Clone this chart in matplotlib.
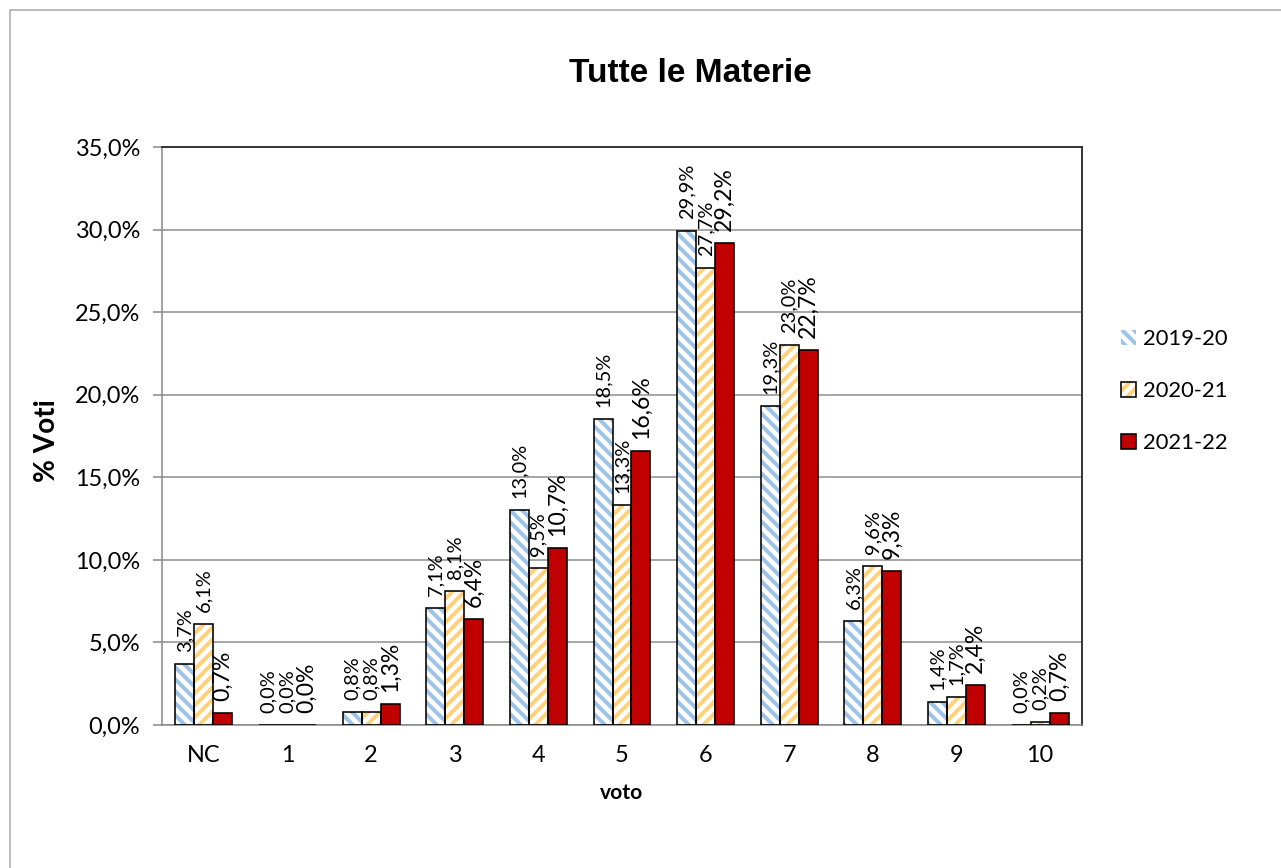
import matplotlib
matplotlib.use("Agg")
import matplotlib.pyplot as plt
import numpy as np
from matplotlib.patches import Patch, Rectangle
from matplotlib.legend_handler import HandlerTuple
from matplotlib.ticker import FuncFormatter, MultipleLocator

categories = ["NC", "1", "2", "3", "4", "5", "6", "7", "8", "9", "10"]
series_names = ["2019-20", "2020-21", "2021-22"]
v_2019_20 = [3.7, 0.0, 0.8, 7.1, 13.0, 18.5, 29.9, 19.3, 6.3, 1.4, 0.0]
v_2020_21 = [6.1, 0.0, 0.8, 8.1, 9.5, 13.3, 27.7, 23.0, 9.6, 1.7, 0.2]
v_2021_22 = [0.7, 0.0, 1.3, 6.4, 10.7, 16.6, 29.2, 22.7, 9.3, 2.4, 0.7]
title = "Tutte le Materie"
ylabel = "% Voti"
xlabel = "voto"

W, H = 1281, 868
DPI = 72
plt.rcParams['hatch.linewidth'] = 4.0
plt.rcParams['font.family'] = ['Lato', 'DejaVu Sans']

fig = plt.figure(figsize=(W / DPI, H / DPI), dpi=DPI)
fig.patch.set_facecolor('white')
ax = fig.add_axes([162 / W, 1 - 725 / H, (1082 - 162) / W, (725 - 147) / H])

x = np.arange(len(categories))
bw = 0.227
offsets = [-bw, 0, bw]
values = [v_2019_20, v_2020_21, v_2021_22]
blue_h = '#9DC3E6'
orange_h = '#FFD27A'
red = '#C00000'

ax.set_axisbelow(True)
# 2019-20 hatched
ax.bar(x + offsets[0], v_2019_20, bw, facecolor='white', edgecolor=blue_h,
       hatch='\\\\', linewidth=0, zorder=2)
ax.bar(x + offsets[0], v_2019_20, bw, fill=False, edgecolor='black',
       linewidth=1.6, zorder=3)
# 2020-21 hatched
ax.bar(x + offsets[1], v_2020_21, bw, facecolor='white', edgecolor=orange_h,
       hatch='//', linewidth=0, zorder=2)
ax.bar(x + offsets[1], v_2020_21, bw, fill=False, edgecolor='black',
       linewidth=1.6, zorder=3)
# 2021-22 solid
ax.bar(x + offsets[2], v_2021_22, bw, facecolor=red, edgecolor='black',
       linewidth=1.6, zorder=3)

label_sizes = [20, 20, 23]
for vals, off, fs in zip(values, offsets, label_sizes):
    for xi, v in zip(x, vals):
        ax.annotate(f"{v:.1f}%".replace('.', ','), (xi + off, v),
                    xytext=(0, 12), textcoords='offset points',
                    rotation=90, ha='center', va='bottom', fontsize=fs,
                    color='black', zorder=5)

ax.set_xlim(-0.5, len(categories) - 0.5)
ax.set_ylim(0, 35)
ax.yaxis.set_major_locator(MultipleLocator(5))
ax.yaxis.set_major_formatter(FuncFormatter(lambda v, p: f"{v:.1f}%".replace('.', ',')))
ax.set_xticks(x)
ax.set_xticklabels(categories)
ax.tick_params(axis='x', length=0, pad=20, labelsize=23.5)
ax.tick_params(axis='y', length=9, width=1.5, color='#868686', pad=13, labelsize=23.5)
ax.grid(axis='y', color='#8C8C8C', linewidth=1.5)
for s in ['left', 'bottom']:
    ax.spines[s].set_color('#868686')
    ax.spines[s].set_linewidth(1.5)
for s in ['top', 'right']:
    ax.spines[s].set_color('#262626')
    ax.spines[s].set_linewidth(1.8)

ax.set_xlabel(xlabel, fontsize=21, fontweight='bold')
ax.xaxis.set_label_coords(0.5, (725 - 793) / 578)
ax.xaxis.label.set_va('center')
ax.set_ylabel(ylabel, fontsize=28, fontweight='bold')
ax.yaxis.set_label_coords((47 - 162) / 920, (725 - 441) / 578)
ax.yaxis.label.set_va('center')

fig.text(690 / W, 1 - 73 / H, title, ha='center', va='center',
         fontsize=33.5, fontweight='bold', family='Liberation Sans')

# legend
h1 = Patch(facecolor='white', edgecolor=blue_h, hatch='\\\\', linewidth=0)
h2a = Patch(facecolor='white', edgecolor=orange_h, hatch='//', linewidth=0)
h2b = Patch(fill=False, edgecolor='black', linewidth=1.6)
h3 = Patch(facecolor=red, edgecolor='black', linewidth=1.6)
fig.legend([h1, (h2a, h2b), h3], series_names,
           handler_map={tuple: HandlerTuple(ndivide=1)},
           loc='center left', bbox_to_anchor=(1121 / W, 1 - 391 / H),
           frameon=False, fontsize=22, handlelength=0.7, handleheight=0.7,
           handletextpad=0.3, labelspacing=1.45, borderpad=0, borderaxespad=0)

# outer chart border
fig.add_artist(Rectangle((10 / W, -0.2), 2, 1.2 - 10 / H, transform=fig.transFigure,
                         fill=False, edgecolor='#A6A6A6', linewidth=1.5))

fig.savefig("out.png", dpi=DPI, facecolor='white')
